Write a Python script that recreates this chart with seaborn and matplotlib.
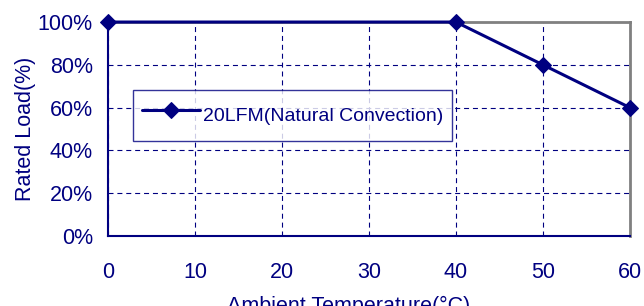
import matplotlib
matplotlib.use('Agg')
import matplotlib.pyplot as plt
import seaborn as sns
import pandas as pd

# derating curve values
temps = [0, 40, 50, 60]
load = [100, 100, 80, 60]
series_name = '20LFM(Natural Convection)'
x_ticks = [0, 10, 20, 30, 40, 50, 60]
y_ticks = [0, 20, 40, 60, 80, 100]
y_tick_labels = ['0%', '20%', '40%', '60%', '80%', '100%']

navy = '#000080'

sns.set_theme(style='white')
plt.rcParams['font.family'] = ['Liberation Sans', 'DejaVu Sans']

df = pd.DataFrame({'Temp': temps, 'Load': load})

fig = plt.figure(figsize=(6.44, 3.06), dpi=100)
ax = fig.add_axes([0.168, 0.229, 0.81, 0.699])

sns.lineplot(data=df, x='Temp', y='Load', ax=ax, color=navy, linewidth=2.2,
             marker='D', markersize=8, markeredgecolor=navy, label=series_name,
             clip_on=False, zorder=5)

ax.set_xlim(0, 60)
ax.set_ylim(0, 100)
ax.set_xticks(x_ticks)
ax.set_yticks(y_ticks)
ax.set_yticklabels(y_tick_labels)
ax.grid(True, color=navy, linestyle=(0, (4.5, 3.5)), linewidth=0.8)

for side in ['left', 'bottom']:
    ax.spines[side].set_color(navy)
    ax.spines[side].set_linewidth(1.5)
for side in ['top', 'right']:
    ax.spines[side].set_color('#808080')
    ax.spines[side].set_linewidth(2)

ax.tick_params(axis='x', direction='in', length=5, color=navy, colors=navy,
               labelsize=15.5, pad=19)
ax.tick_params(axis='y', length=0, colors=navy, labelsize=15.5, pad=11)

ax.set_xlabel('Ambient Temperature(°C)', color=navy, fontsize=15.5, va='top')
ax.xaxis.set_label_coords(0.46, -0.28)
ax.set_ylabel('Rated Load(%)', color=navy, fontsize=15.5, labelpad=1)

leg = ax.legend(loc='upper left', bbox_to_anchor=(0.048, 0.682), fontsize=14,
                frameon=True, fancybox=False, borderpad=0.45, handlelength=3.0,
                handleheight=2.25, handletextpad=0.15, labelcolor=navy,
                borderaxespad=0)
leg.get_frame().set_edgecolor(navy)
leg.get_frame().set_linewidth(1)

fig.savefig('out.png', dpi=100)
